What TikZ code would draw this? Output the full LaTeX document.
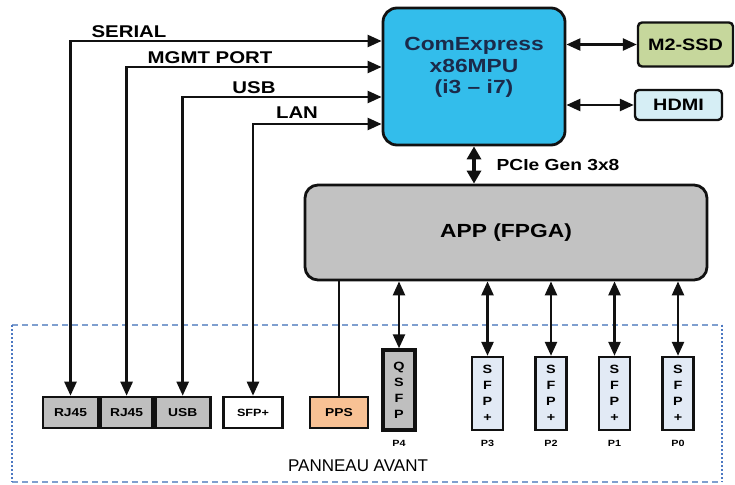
\documentclass[tikz,border=0pt]{standalone}
\usepackage{fontspec}
\usepackage{tikz}
\usetikzlibrary{positioning,arrows.meta,calc}
\newfontfamily\lblfont{Liberation Sans}[FakeStretch=1.2]
\newfontfamily\panelfont{Liberation Sans}
\definecolor{ink}{HTML}{111111}
\definecolor{navy}{HTML}{1B2A4A}
\definecolor{cpucol}{HTML}{33BDEB}
\definecolor{ssdcol}{HTML}{C6D79C}
\definecolor{hdmicol}{HTML}{D6EEF5}
\definecolor{fpgacol}{HTML}{C2C2C2}
\definecolor{portcol}{HTML}{BFBFBF}
\definecolor{ppscol}{HTML}{F8C194}
\definecolor{sfpcol}{HTML}{E2EAF5}
\definecolor{dashcol}{HTML}{7F9FCF}
\definecolor{dotcol}{HTML}{4C78C2}

\begin{document}
\begin{tikzpicture}[x=1pt,y=-1pt,
  blk/.style={draw=ink,line width=2.8pt,rounded corners=14pt,inner sep=0pt,align=center,
              font=\fontsize{19}{21}\lblfont\bfseries},
  aux/.style={draw=ink,line width=2.4pt,rounded corners=4pt,inner sep=0pt,
              font=\fontsize{16.5}{18}\lblfont\bfseries},
  port/.style={draw=ink,line width=2.6pt,inner sep=0pt,minimum height=31pt,
               font=\fontsize{11.5}{13}\lblfont\bfseries},
  vport/.style={draw=ink,line width=2.4pt,inner sep=0pt,align=center,
                font=\fontsize{12}{16}\lblfont\bfseries},
  lbl/.style={inner sep=0pt,font=\fontsize{17}{19}\lblfont\bfseries},
  plbl/.style={inner sep=0pt,font=\fontsize{9}{10}\lblfont\bfseries},
  link/.style={draw=ink,line width=2.5pt,{Triangle[length=14pt,width=12pt]}-{Triangle[length=14pt,width=12pt]}}
]
\useasboundingbox (0,0) rectangle (735,484);
% ---- main blocks
\node[blk,fill=cpucol,minimum width=182pt,minimum height=137pt] (cpu) at (474,76.5) {};
\node[inner sep=0pt,align=center,text=navy,font=\fontsize{19}{21.5}\lblfont\bfseries] (cpuTxt) at (474,67.5)
  {ComExpress\\x86MPU\\(i3 – i7)};
\node[aux,fill=ssdcol,minimum width=95pt,minimum height=44pt] (ssd) at (685.5,44.5) {M2-SSD};
\node[aux,fill=hdmicol,minimum width=87pt,minimum height=30pt] (hdmi) at (678.5,105) {HDMI};
\node[blk,fill=fpgacol,rounded corners=13pt,minimum width=402pt,minimum height=95pt] (app) at (506,232.5)
  {APP (FPGA)};

% ---- front panel frame
\coordinate (pnw) at (12,325);
\coordinate (pse) at (722,482);
\draw[dashcol,line width=2pt,dash pattern=on 6pt off 4pt] (pnw) -- (pnw -| pse) (pnw |- pse) -- (pse);
\draw[dotcol,line width=2pt,dash pattern=on 2pt off 2pt] (pnw) -- (pnw |- pse) (pnw -| pse) -- (pse);
\node[inner sep=0pt,font=\fontsize{17}{19}\panelfont] (panel) at (358,466) {PANNEAU AVANT};

% ---- ports on the left
\node[port,fill=portcol,minimum width=55pt] (rjA) at (70.5,412.5) {RJ45};
\node[port,fill=portcol,minimum width=52pt,right=0pt of rjA] (rjB) {RJ45};
\node[port,fill=portcol,minimum width=55pt,right=0pt of rjB] (usbp) {USB};
\node[port,fill=white,minimum width=59pt,font=\fontsize{10.5}{12}\lblfont\bfseries] (sfpL) at (253,412.5) {SFP+};
\node[port,fill=ppscol,minimum width=58pt] (pps) at (339,412.5) {PPS};

% ---- ports under the FPGA
\node[vport,fill=portcol,line width=3.4pt,minimum width=32pt,minimum height=80pt] (qsfp) at (399,390)
  {Q\\S\\F\\P};
\node[plbl] (p4) at (399,443) {P4};
\foreach \n/\x in {3/487.5, 2/551, 1/614.5, 0/678}{
  \node[vport,fill=sfpcol,minimum width=31pt,minimum height=73pt] (sfp\n) at (\x,393.5) {S\\F\\P\\+};
  \node[plbl] (p\n) at (\x,443) {P\n};
}

% ---- links
\coordinate (cSer) at (cpu.west |- 0,41);
\coordinate (cMgt) at (cpu.west |- 0,67);
\coordinate (cUsb) at (cpu.west |- 0,97);
\coordinate (cLan) at (cpu.west |- 0,124);
\draw[link] (rjA.north) |- (cSer);
\draw[link] (rjB.north) |- (cMgt);
\draw[link] (usbp.north) |- (cUsb);
\draw[link] (sfpL.north) |- (cLan);
\node[lbl] (tSer) at (129,32) {SERIAL};
\node[lbl] (tMgt) at (210,58) {MGMT PORT};
\node[lbl] (tUsb) at (254,88) {USB};
\node[lbl] (tLan) at (297,113) {LAN};

\draw[link] (cpu.east |- ssd.west) -- (ssd.west);
\draw[link] (cpu.east |- hdmi.west) -- (hdmi.west);
\draw[draw=ink,line width=3.4pt,{Triangle[length=13pt,width=14pt]}-{Triangle[length=13pt,width=14pt]}]
  (cpu.south) -- (cpu.south |- app.north);
\node[lbl,font=\fontsize{16}{18}\lblfont\bfseries] (tPci) at (558,165) {PCIe Gen 3x8};

\draw[draw=ink,line width=2.5pt] (pps.north) -- (pps.north |- app.south);
\draw[link] (qsfp.north |- app.south) -- (qsfp.north);
\foreach \n in {3,2,1,0}
  \draw[link] (sfp\n.north |- app.south) -- (sfp\n.north);
\end{tikzpicture}
\end{document}
